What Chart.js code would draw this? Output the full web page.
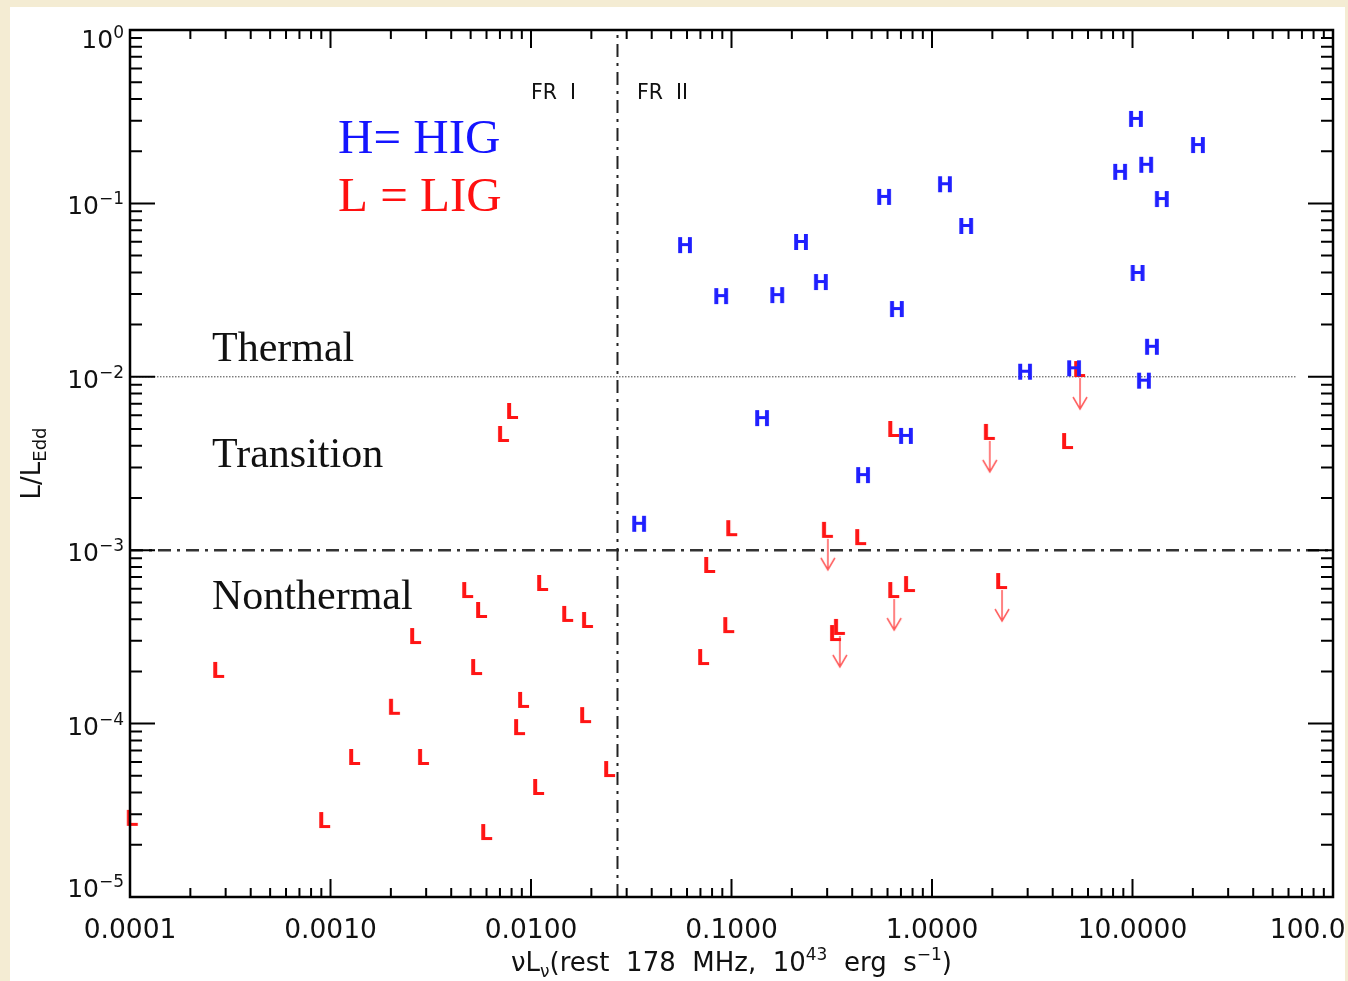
<!DOCTYPE html>
<html>
<head>
<meta charset="utf-8">
<title>Eddington ratio vs 178 MHz luminosity</title>
<script src="https://cdn.jsdelivr.net/npm/chart.js@4.4.1/dist/chart.umd.min.js"></script>
<style>
  html, body { margin: 0; padding: 0; background: #f4ecd3; }
  canvas { display: block; }
</style>
</head>
<body>
<canvas id="eddChart" width="1348" height="981"></canvas>
<script>
// HIG sources (blue H): nuL_nu at 178 MHz (1e43 erg/s) and L/L_Edd
const higLum = [10.4, 21.2, 11.7, 8.67, 14.0, 1.16, 0.577, 1.48, 0.0586, 0.222, 0.0888, 0.169,
  0.279, 0.668, 10.6, 12.5, 2.91, 5.11, 11.4, 0.142, 0.741, 0.453, 0.0346];
const higEdd = [0.307, 0.217, 0.167, 0.152, 0.106, 0.129, 0.109, 0.0741, 0.0575, 0.0599, 0.0292, 0.0296,
  0.0352, 0.0246, 0.0397, 0.0149, 0.0107, 0.0112, 0.0095, 0.00578, 0.00456, 0.00271, 0.00142];

// LIG sources (red L)
const ligLum = [0.640, 4.71, 0.0996, 0.438, 0.0773, 0.767, 0.0962, 0.328, 0.0721, 0.00804, 0.00724,
  0.00480, 0.00563, 0.01135, 0.01514, 0.0190, 0.00264, 0.000275, 0.00532, 0.00207, 0.00912, 0.00871,
  0.0186, 0.00131, 0.00289, 0.0245, 0.01084, 0.000929, 0.00597, 0.000102];
const ligEdd = [0.00500, 0.00426, 0.00134, 0.00119, 0.000822, 0.000638, 0.000370, 0.000333, 0.000242,
  0.00635, 0.00468, 0.000589, 0.000452, 0.000647, 0.000429, 0.000396, 0.000320, 0.000204, 0.000212,
  0.000125, 0.000137, 0.0000955, 0.000112, 0.0000642, 0.0000642, 0.0000547, 0.0000431, 0.0000278,
  0.0000237, 0.0000286];

// LIG upper limits (red L with arrow)
const limLum = [5.41, 1.92, 0.299, 0.640, 2.21, 0.343];
const limEdd = [0.01109, 0.00481, 0.00131, 0.000589, 0.000664, 0.000361];

// boundaries
const frBreak = 0.027;
const thermalEdd = 0.01;
const nonthermalEdd = 0.001;
const thermalLineEnd = 65;

// axes
const xTickValues = [1e-4, 1e-3, 1e-2, 0.1, 1, 10, 100];
const xTickLabels = ['0.0001', '0.0010', '0.0100', '0.1000', '1.0000', '10.0000', '100.0000'];
const yTickValues = [1, 0.1, 0.01, 1e-3, 1e-4, 1e-5];
const yTickExps = ['0', '\u22121', '\u22122', '\u22123', '\u22124', '\u22125'];

const xMin = xTickValues[0], xMax = xTickValues[xTickValues.length - 1];
const yMin = yTickValues[yTickValues.length - 1], yMax = yTickValues[0];

const SANS = '"DejaVu Sans"';
const SERIF = '"Liberation Serif"';

function toPoints(xs, ys) {
  return xs.map((x, i) => ({ x: x, y: ys[i] }));
}

// letter glyphs used as point markers
function glyph(letter, color, arrow) {
  const c = document.createElement('canvas');
  const w = 28, h = arrow ? 92 : 28;
  c.width = w;
  c.height = h;
  const g = c.getContext('2d');
  g.font = 'bold 21px ' + SANS;
  g.textAlign = 'center';
  g.textBaseline = 'alphabetic';
  g.fillStyle = color;
  g.fillText(letter, w / 2, h / 2 + 7.7);
  if (arrow) {
    const ax = w / 2 + 1, y0 = h / 2 + 9, y1 = h / 2 + 40;
    g.strokeStyle = '#ff5a5a';
    g.lineWidth = 1.5;
    g.beginPath();
    g.moveTo(ax, y0);
    g.lineTo(ax, y1);
    g.moveTo(ax - 7, y1 - 12);
    g.lineTo(ax, y1);
    g.lineTo(ax + 7, y1 - 12);
    g.stroke();
  }
  return c;
}

function minorValues(min, max) {
  const out = [];
  for (let e = Math.round(Math.log10(min)); e < Math.round(Math.log10(max)); e++) {
    for (let m = 2; m <= 9; m++) out.push(m * Math.pow(10, e));
  }
  return out;
}

// text with sub/superscript parts
function richText(ctx, parts, x, y, align) {
  let total = 0;
  parts.forEach(p => {
    ctx.font = p.size + 'px ' + SANS;
    p.w = ctx.measureText(p.t).width;
    total += p.w;
  });
  let cx = align === 'right' ? x - total : align === 'center' ? x - total / 2 : x;
  ctx.textAlign = 'left';
  parts.forEach(p => {
    ctx.font = p.size + 'px ' + SANS;
    ctx.fillText(p.t, cx, y + (p.dy || 0));
    cx += p.w;
  });
}

const decor = {
  id: 'decor',
  beforeDraw(chart) {
    const ctx = chart.ctx;
    ctx.save();
    ctx.fillStyle = '#f4ecd3';
    ctx.fillRect(0, 0, chart.width, chart.height);
    ctx.fillStyle = '#ffffff';
    ctx.fillRect(10, 7, 1335, 974);
    ctx.restore();
  },
  afterDatasetsDraw(chart) {
    const ctx = chart.ctx;
    const a = chart.chartArea;
    const xs = chart.scales.x, ys = chart.scales.y;
    ctx.save();
    ctx.strokeStyle = '#000';
    ctx.lineWidth = 2;
    ctx.beginPath();
    xTickValues.forEach(v => {
      const px = xs.getPixelForValue(v);
      ctx.moveTo(px, a.bottom); ctx.lineTo(px, a.bottom - 18);
      ctx.moveTo(px, a.top); ctx.lineTo(px, a.top + 18);
    });
    minorValues(xMin, xMax).forEach(v => {
      const px = xs.getPixelForValue(v);
      ctx.moveTo(px, a.bottom); ctx.lineTo(px, a.bottom - 9);
      ctx.moveTo(px, a.top); ctx.lineTo(px, a.top + 9);
    });
    yTickValues.forEach(v => {
      const py = ys.getPixelForValue(v);
      ctx.moveTo(a.left, py); ctx.lineTo(a.left + 25, py);
      ctx.moveTo(a.right, py); ctx.lineTo(a.right - 25, py);
    });
    minorValues(yMin, yMax).forEach(v => {
      const py = ys.getPixelForValue(v);
      ctx.moveTo(a.left, py); ctx.lineTo(a.left + 12, py);
      ctx.moveTo(a.right, py); ctx.lineTo(a.right - 12, py);
    });
    ctx.stroke();
    ctx.lineWidth = 2.5;
    ctx.strokeRect(a.left, a.top, a.right - a.left, a.bottom - a.top);

    // tick labels
    ctx.fillStyle = '#111';
    ctx.textBaseline = 'alphabetic';
    ctx.font = '26.5px ' + SANS;
    ctx.textAlign = 'center';
    xTickValues.forEach((v, i) => {
      ctx.fillText(xTickLabels[i], xs.getPixelForValue(v), a.bottom + 41);
    });
    yTickValues.forEach((v, i) => {
      const base = Math.min(Math.max(ys.getPixelForValue(v) + 11, a.top + 18), a.bottom);
      richText(ctx, [{ t: '10', size: 25 }, { t: yTickExps[i], size: 17, dy: -10 }], a.left - 6, base, 'right');
    });

    // axis titles
    richText(ctx, [
      { t: '\u03BDL', size: 26 }, { t: '\u03BD', size: 17, dy: 6 },
      { t: '(rest  178  MHz,  10', size: 26 }, { t: '43', size: 17, dy: -11 },
      { t: '  erg  s', size: 26 }, { t: '\u22121', size: 17, dy: -11 }, { t: ')', size: 26 }
    ], (a.left + a.right) / 2, 971, 'center');
    ctx.save();
    ctx.translate(40, (a.top + a.bottom) / 2);
    ctx.rotate(-Math.PI / 2);
    richText(ctx, [{ t: 'L/L', size: 26 }, { t: 'Edd', size: 18, dy: 6 }], 0, 0, 'center');
    ctx.restore();

    // annotations
    ctx.textAlign = 'left';
    ctx.font = '20.5px ' + SANS;
    ctx.fillText('FR  I', a.left + 401, a.top + 69);
    ctx.fillText('FR  II', a.left + 507, a.top + 69);
    ctx.font = '49px ' + SERIF;
    ctx.fillStyle = '#1414ff';
    ctx.fillText('H= HIG', a.left + 208, a.top + 123);
    ctx.fillStyle = '#ff1010';
    ctx.fillText('L = LIG', a.left + 208, a.top + 181);
    ctx.fillStyle = '#111';
    ctx.font = '42px ' + SERIF;
    ctx.fillText('Thermal', a.left + 82, a.top + 331);
    ctx.fillText('Transition', a.left + 82, a.top + 437);
    ctx.fillText('Nonthermal', a.left + 82, a.top + 579);
    ctx.restore();
  },
  afterDraw(chart) {
    const ctx = chart.ctx;
    ctx.save();
    ctx.fillStyle = '#f4ecd3';
    ctx.fillRect(1345, 0, chart.width - 1345, chart.height);
    ctx.restore();
  }
};

new Chart(document.getElementById('eddChart'), {
  type: 'scatter',
  data: {
    datasets: [
      { label: 'HIG', data: toPoints(higLum, higEdd), pointStyle: glyph('H', '#1f1fff', false), clip: false },
      { label: 'LIG', data: toPoints(ligLum, ligEdd), pointStyle: glyph('L', '#ff1414', false), clip: false },
      { label: 'LIG upper limit', data: toPoints(limLum, limEdd), pointStyle: glyph('L', '#ff1414', true), clip: false },
      {
        label: 'FR I / FR II', data: [{ x: frBreak, y: yMin }, { x: frBreak, y: yMax }],
        showLine: true, pointRadius: 0, borderColor: '#222', borderWidth: 2, borderDash: [13, 6, 3, 6]
      },
      {
        label: 'Nonthermal limit', data: [{ x: xMin, y: nonthermalEdd }, { x: xMax, y: nonthermalEdd }],
        showLine: true, pointRadius: 0, borderColor: '#333', borderWidth: 2.5, borderDash: [13, 6, 3, 6]
      },
      {
        label: 'Thermal limit', data: [{ x: xMin, y: thermalEdd }, { x: thermalLineEnd, y: thermalEdd }],
        showLine: true, pointRadius: 0, borderColor: '#444', borderWidth: 1, borderDash: [1.5, 1.5]
      }
    ]
  },
  options: {
    responsive: false,
    animation: false,
    events: [],
    layout: { padding: { left: 130, right: 15, top: 30, bottom: 84 } },
    plugins: { legend: { display: false }, tooltip: { enabled: false } },
    scales: {
      x: { type: 'logarithmic', min: xMin, max: xMax, display: false },
      y: { type: 'logarithmic', min: yMin, max: yMax, display: false }
    }
  },
  plugins: [decor]
});
</script>
</body>
</html>
